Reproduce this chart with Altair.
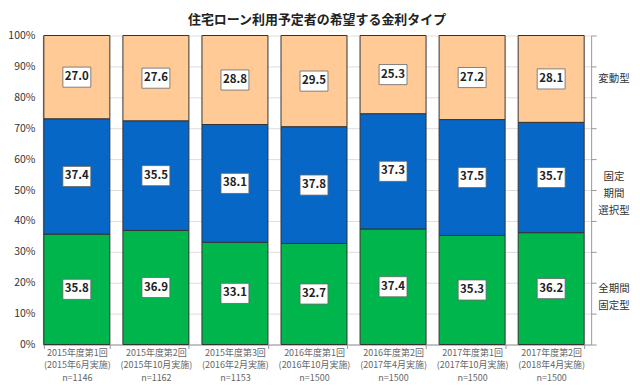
import altair as alt
import pandas as pd

rounds = ["2015年度第1回", "2015年度第2回", "2015年度第3回", "2016年度第1回",
          "2016年度第2回", "2017年度第1回", "2017年度第2回"]
survey = ["(2015年6月実施)", "(2015年10月実施)", "(2016年2月実施)", "(2016年10月実施)",
          "(2017年4月実施)", "(2017年10月実施)", "(2018年4月実施)"]
samples = ["n=1146", "n=1162", "n=1153", "n=1500", "n=1500", "n=1500", "n=1500"]

types = ["全期間固定型", "固定期間選択型", "変動型"]
type_labels = ["全期間\n固定型", "固定\n期間\n選択型", "変動型"]
full_fixed = [35.8, 36.9, 33.1, 32.7, 37.4, 35.3, 36.2]
period_fixed = [37.4, 35.5, 38.1, 37.8, 37.3, 37.5, 35.7]
variable = [27.0, 27.6, 28.8, 29.5, 25.3, 27.2, 28.1]
colors = ["#00B64C", "#0767C6", "#FFCA96"]

series = [full_fixed, period_fixed, variable]
cats = ["|".join(t) for t in zip(rounds, survey, samples)]

rows = []
for i, cat in enumerate(cats):
    total = sum(s[i] for s in series)
    cum = 0.0
    for k, s in enumerate(series):
        share = s[i] / total
        rows.append({"cat": cat, "type": types[k], "tlabel": type_labels[k], "order": k,
                     "value": s[i], "label": f"{s[i]:.1f}", "mid": cum + share / 2})
        cum += share
df = pd.DataFrame(rows)
last = df[df["cat"] == cats[-1]]

FONT = "Noto Sans CJK JP"
ticks = [i / 10 for i in range(11)]
yscale = alt.Scale(domain=[0, 1])
xscale = alt.Scale(paddingInner=0.165, paddingOuter=0.05, align=0.12)

xenc = alt.X("cat:N", sort=cats, title=None, scale=xscale,
             axis=alt.Axis(labelExpr="split(datum.label, '|')", labelAngle=0,
                           labelFontSize=9, labelColor="#666", labelLineHeight=12.5,
                           labelPadding=0, tickBand="extent", tickSize=4,
                           tickColor="#999", domainColor="#999", labelBaseline="top"))

bars = alt.Chart(df).mark_bar(stroke="#333", strokeWidth=1).encode(
    x=xenc,
    y=alt.Y("value:Q", stack="normalize", title=None, scale=yscale,
            axis=alt.Axis(orient="left", values=ticks, format=".0%", labelFontSize=10.5,
                          labelColor="#333", ticks=False, labelPadding=8,
                          domainColor="#999", gridColor="#DDDDDD")),
    color=alt.Color("type:N", scale=alt.Scale(domain=types, range=colors), legend=None),
    order=alt.Order("order:Q"),
)

box_shape = "M-1,-0.72 L1,-0.72 L1,0.72 L-1,0.72 Z"
boxes = alt.Chart(df).mark_point(shape=box_shape, size=784, filled=True, fill="white",
                                 stroke="#666", strokeWidth=0.8, opacity=1).encode(
    x=alt.X("cat:N", sort=cats, scale=xscale),
    y=alt.Y("mid:Q", scale=yscale, axis=None),
)

labels = alt.Chart(df).mark_text(font=FONT, fontWeight="bold", fontSize=11.5,
                                 color="#222", baseline="middle").encode(
    x=alt.X("cat:N", sort=cats, scale=xscale),
    y=alt.Y("mid:Q", scale=yscale,
            axis=alt.Axis(orient="right", labels=False, ticks=True, tickSize=5,
                          tickColor="#999", domainColor="#999", grid=False,
                          values=ticks, title=None)),
    text="label:N",
)

side = alt.Chart(last).mark_text(font=FONT, fontSize=10.5, color="#333", lineBreak="\n",
                                 lineHeight=17, align="center", baseline="middle").encode(
    x=alt.value(573),
    y=alt.Y("mid:Q", scale=yscale, axis=None),
    text="tlabel:N",
)

chart = alt.layer(bars, boxes, labels, side).resolve_scale(y="independent").properties(
    width=550, height=310,
    autosize="none",
    padding={"left": 35, "top": 27, "right": 41, "bottom": 39},
    title=alt.TitleParams("住宅ローン利用予定者の希望する金利タイプ", fontSize=13,
                          fontWeight="bold", font=FONT, color="#222", anchor="middle",
                          offset=4),
).configure_view(stroke=None).configure_axis(labelFont=FONT)

chart.save("out.html", embed_options={"renderer": "svg", "actions": False})
